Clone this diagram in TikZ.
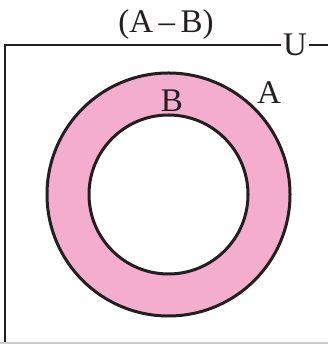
\documentclass[tikz,border=0pt]{standalone}
\usepackage{fontspec}
\setmainfont{Liberation Serif}
\definecolor{ringpink}{HTML}{F4ADCD}
\definecolor{inkblack}{HTML}{231F20}
\begin{document}
\begin{tikzpicture}[x=1pt,y=1pt,
  lbl/.style={font=\fontsize{33}{37}\selectfont, text=inkblack, inner sep=0pt},
  edge/.style={draw=inkblack, line width=3pt}]
\useasboundingbox (0,0) rectangle (328,344);
% universe frame
\coordinate (tl) at (5,299);
\coordinate (bl) at (5,0);
\coordinate (tr) at (328,299);
\node[lbl, inner xsep=2pt] (U) at (295,299) {U};
\draw[edge, line width=2.4pt] (bl) -- (tl) -- (U.west);
\draw[edge, line width=2.4pt] (U.east) -- (tr);
\draw[gray!40, line width=1.5pt] (0,0.75) -- (328,0.75);
% ring
\coordinate (c) at (168.5,149.5);
\fill[ringpink, even odd rule] (c) circle[radius=121.5] (c) circle[radius=79.5];
\draw[edge] (c) circle[radius=121.5];
\draw[edge] (c) circle[radius=79.5];
% labels
\node[lbl] (title) at (166,319) {(A\,–\,B)};
\node[lbl] (A) at (269,251) {A};
\node[lbl] (B) at (172,243) {B};
\end{tikzpicture}
\end{document}
